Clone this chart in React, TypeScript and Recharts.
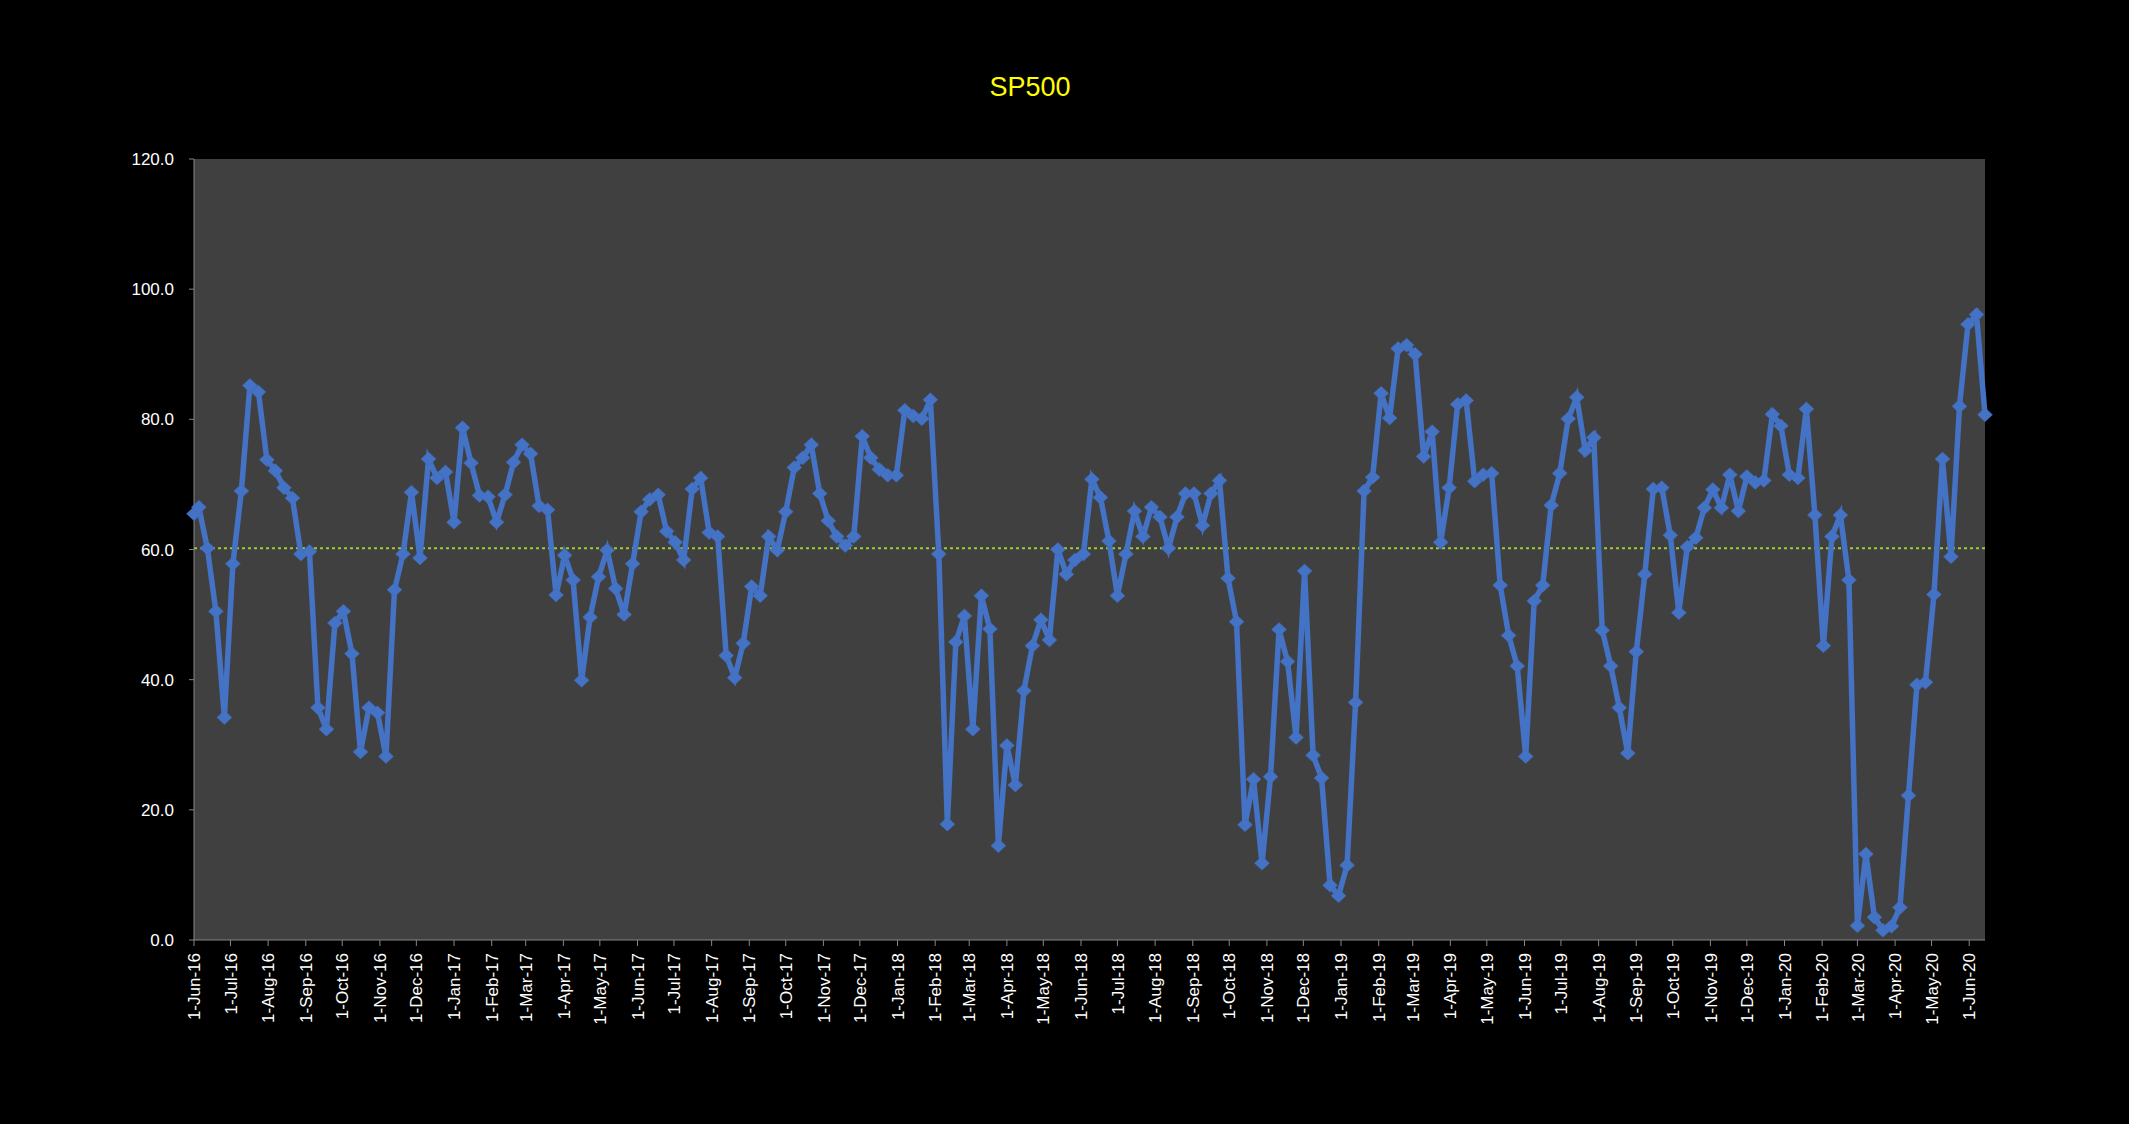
import React from 'react';
import { LineChart, Line, XAxis, YAxis, CartesianGrid, ReferenceLine } from 'recharts';

// Weekly readings (first point 1-Jun-16, then every Sunday from 5-Jun-16)
const values2016 = [
  65.5, 66.5, 60.2, 50.5, 34.2,
  57.8, 69.0, 85.2, 84.2, 73.8,
  72.1, 69.5, 67.9, 59.3,
  59.7, 35.7, 32.4, 48.7,
  50.5, 44.0, 28.9, 35.7, 34.9,
  28.2, 53.8, 59.3, 68.8,
  58.7, 73.9, 71.0, 71.9,
];
const values2017 = [
  64.2, 78.7, 73.3, 68.3, 68.1,
  64.2, 68.4, 73.4, 76.1,
  74.7, 66.7, 66.1, 53.0,
  59.1, 55.3, 39.9, 49.6, 55.8,
  59.9, 54.0, 50.0, 57.8,
  65.8, 67.7, 68.4, 62.8,
  61.1, 58.4, 69.3, 71.0, 62.6,
  62.0, 43.7, 40.3, 45.6,
  54.3, 52.9, 62.0, 59.9,
  65.8, 72.6, 74.1, 76.1, 68.6,
  64.4, 62.0, 60.6, 62.0,
  77.4, 74.1, 72.3, 71.4, 71.4,
];
const values2018 = [
  81.4, 80.5, 80.1, 83.0,
  59.3, 17.8, 45.8, 49.8,
  32.4, 52.9, 47.8, 14.5,
  29.9, 23.8, 38.3, 45.2, 49.2,
  46.1, 60.0, 56.2, 58.4,
  59.3, 70.8, 68.0, 61.3,
  52.9, 59.3, 65.9, 62.0, 66.5,
  65.0, 60.2, 65.0, 68.6,
  68.6, 63.7, 68.6, 70.6, 55.6,
  48.9, 17.7, 24.7, 11.8,
  25.1, 47.7, 42.8, 31.1,
  56.7, 28.4, 24.9, 8.4, 6.8,
];
const values2019 = [
  11.5, 36.5, 69.0, 71.1,
  84.0, 80.2, 90.9, 91.4,
  90.0, 74.3, 78.1, 61.1, 69.5,
  82.3, 82.9, 70.5, 71.5,
  71.7, 54.5, 46.8, 42.1,
  28.2, 52.1, 54.5, 66.8, 71.7,
  80.1, 83.4, 75.2, 77.2,
  47.6, 42.1, 35.7, 28.7,
  44.3, 56.2, 69.3, 69.5, 62.2,
  50.3, 60.4, 61.8, 66.4,
  69.2, 66.4, 71.5, 65.9,
  71.2, 70.3, 70.6, 80.8, 79.0,
];
const values2020 = [
  71.5, 71.0, 81.6, 65.3,
  45.2, 62.0, 65.3, 55.3,
  2.2, 13.2, 3.5, 1.5, 2.1,
  5.0, 22.2, 39.2, 39.6,
  53.1, 73.9, 58.9, 82.0, 94.6,
  96.1, 80.7,
];

const averageLevel = 60.2;
const yTicks = [0, 20, 40, 60, 80, 100, 120];
const monthNames = ['Jan', 'Feb', 'Mar', 'Apr', 'May', 'Jun', 'Jul', 'Aug', 'Sep', 'Oct', 'Nov', 'Dec'];
const titleText = 'SP500';

const DAY = 86400000;
const allValues = [...values2016, ...values2017, ...values2018, ...values2019, ...values2020];
const dates: number[] = [Date.UTC(2016, 5, 1)];
for (let i = 0; dates.length < allValues.length; i++) dates.push(Date.UTC(2016, 5, 5) + i * 7 * DAY);
const data = allValues.map((v, i) => ({ t: dates[i], v }));
const lastDate = dates[dates.length - 1];

const monthTicks: number[] = [];
{
  let y = 2016;
  let m = 5;
  while (true) {
    const t = Date.UTC(y, m, 1);
    if (t > lastDate) break;
    monthTicks.push(t);
    m++;
    if (m > 11) { m = 0; y++; }
  }
}

const fmtDate = (t: number) => {
  const d = new Date(t);
  return `${d.getUTCDate()}-${monthNames[d.getUTCMonth()]}-${String(d.getUTCFullYear()).slice(2)}`;
};

const FONT = '"Liberation Sans", Arial, sans-serif';

const XTick = (props: any) => {
  const { x, y, payload } = props;
  return (
    <g transform={`translate(${x},${y})`}>
      <text x={0} y={0} dy="0.36em" transform="rotate(-90)" textAnchor="end" fill="#ffffff" fontSize={17} fontFamily={FONT}>
        {fmtDate(payload.value)}
      </text>
    </g>
  );
};

const Diamond = (props: any) => {
  const { cx, cy, index } = props;
  if (cx == null || cy == null) return <g key={`d-${index}`} />;
  return (
    <path
      key={`d-${index}`}
      d={`M${cx},${cy - 7} L${cx + 7.5},${cy} L${cx},${cy + 7} L${cx - 7.5},${cy} Z`}
      fill="#4472C4"
      stroke="#3F6BBA"
      strokeWidth={0.5}
    />
  );
};

export default function App() {
  return (
    <div style={{ position: 'absolute', left: 0, top: 0, width: 2129, height: 1124, background: '#000000', overflow: 'hidden' }}>
      <div
        style={{
          position: 'absolute',
          left: 930,
          top: 74,
          width: 200,
          textAlign: 'center',
          color: '#FFFF00',
          fontSize: 27,
          lineHeight: '27px',
          fontFamily: FONT,
        }}
      >
        {titleText}
      </div>
      <LineChart width={2129} height={1124} data={data} margin={{ top: 159, right: 144, bottom: 0, left: 0 }}>
        <CartesianGrid fill="#404040" fillOpacity={1} horizontal={false} vertical={false} stroke="none" />
        <XAxis
          type="number"
          dataKey="t"
          scale="linear"
          domain={[dates[0], lastDate]}
          ticks={monthTicks}
          interval={0}
          tick={<XTick />}
          height={184}
          stroke="#868686"
          tickSize={6}
          tickMargin={7}
        />
        <YAxis
          type="number"
          domain={[0, 120]}
          ticks={yTicks}
          interval={0}
          tickFormatter={(v: number) => v.toFixed(1)}
          width={194}
          stroke="#868686"
          tick={{ fill: '#ffffff', fontSize: 17, fontFamily: FONT }}
          tickSize={5}
          tickMargin={15}
        />
        <ReferenceLine y={averageLevel} stroke="#9ACD32" strokeWidth={2} strokeDasharray="3 3" />
        <Line
          type="linear"
          dataKey="v"
          stroke="#4472C4"
          strokeWidth={5.5}
          dot={Diamond}
          activeDot={false}
          isAnimationActive={false}
        />
      </LineChart>
    </div>
  );
}
